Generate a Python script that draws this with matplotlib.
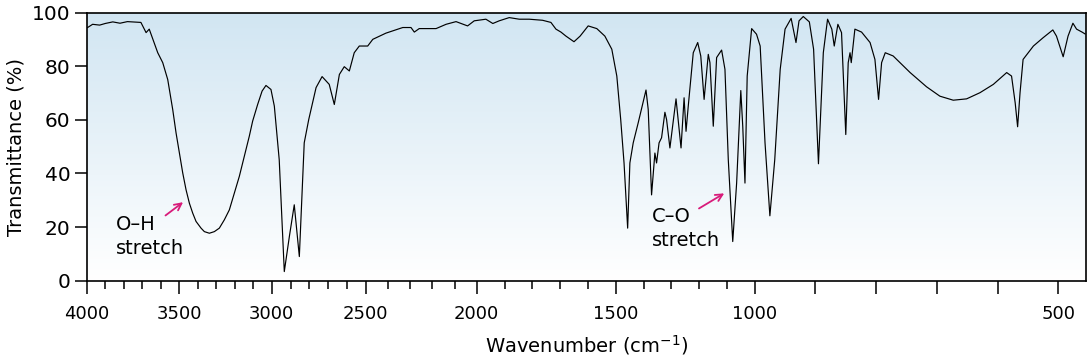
import numpy as np
import matplotlib
matplotlib.use("Agg")
import matplotlib.pyplot as plt
from matplotlib.ticker import FixedLocator, FixedFormatter

# ---------------- data ----------------
wavenumber = [
    3995, 3968, 3930, 3900, 3859, 3820, 3780, 3707, 3679, 3662, 3616, 3589,
    3562, 3535, 3517, 3499, 3481, 3463, 3445, 3427, 3409, 3382, 3364, 3337,
    3310, 3283, 3256, 3229, 3202, 3175, 3148, 3121, 3103, 3076, 3052, 3031,
    3004,
    2986, 2960, 2933, 2906, 2880, 2853, 2827, 2803, 2764, 2732, 2694, 2667,
    2640, 2614, 2587, 2561, 2534,
    2491, 2468, 2409, 2333, 2296, 2281, 2259, 2183, 2138, 2093, 2041, 2011,
    1967, 1942, 1919, 1883, 1847, 1811, 1763, 1733, 1715, 1697, 1679, 1650,
    1628, 1599, 1568, 1539, 1514, 1496, 1482, 1470, 1457, 1449, 1437, 1419,
    1391, 1383, 1371, 1359, 1353, 1344, 1335, 1323, 1317, 1305, 1283, 1265,
    1254, 1247, 1239, 1221, 1205, 1194, 1182, 1167, 1161, 1149, 1137, 1119,
    1107, 1095, 1079, 1065, 1050, 1043, 1035, 1027, 1011,
    997, 991, 983, 975, 967, 958, 950, 940, 932, 927, 920, 910, 903, 895,
    887, 880, 873, 869, 863, 857, 850, 846, 843, 841, 835, 824, 810, 802,
    796, 791, 785, 772, 744, 717, 695, 673, 651, 629, 607, 585, 577, 571,
    567, 563, 558, 541, 525, 509, 503, 492, 484, 476, 470, 461, 456,
]
transmittance = [
    94.4, 95.6, 95.3, 95.9, 96.5, 96.0, 96.6, 96.3, 92.5, 93.8, 85.0, 81.3,
    75.0, 63.8, 55.1, 47.6, 40.2, 33.9, 28.9, 25.2, 22.1, 19.6, 18.3, 17.7,
    18.3, 19.6, 22.7, 26.4, 32.7, 38.9, 46.4, 53.9, 59.5, 65.7, 70.7, 72.8,
    71.3,
    65.1, 45.1, 3.4, 16.5, 28.3, 9.0, 51.4, 60.1, 72.0, 76.1, 73.2, 65.7,
    76.9, 79.8, 78.2, 85.0, 87.5,
    87.5, 90.0, 92.3, 94.4, 94.4, 92.7, 94.0, 94.0, 95.6, 96.6, 95.0, 96.9,
    97.5, 95.9, 96.9, 98.1, 97.5, 97.5, 97.1, 96.3, 93.8, 92.7, 91.2, 89.1,
    91.2, 95.0, 94.0, 91.2, 86.3, 76.3, 60.1, 43.9, 19.6, 43.9, 51.4, 58.9,
    71.1, 63.8, 32.0, 47.6, 43.9, 51.4, 53.3, 62.8, 60.1, 49.5, 67.8, 49.5,
    68.2, 55.7, 65.1, 85.0, 88.8, 83.8, 67.6, 84.4, 81.3, 57.6, 83.2, 86.0,
    78.8, 45.1, 14.6, 36.4, 70.9, 57.6, 36.4, 76.3, 94.0,
    91.9, 87.5, 51.4, 24.2, 45.1, 78.8, 93.8, 97.8, 88.8, 96.9, 98.5, 96.5,
    86.3, 43.6, 85.0, 97.5, 93.8, 87.5, 95.6, 92.5, 54.5, 81.3, 85.0, 81.3,
    93.8, 92.7, 88.8, 82.5, 67.6, 81.3, 85.0, 83.8, 77.6, 72.3, 68.8, 67.3,
    67.8, 70.1, 73.2, 77.6, 76.3, 66.3, 57.4, 70.1, 82.5, 87.5, 90.6, 93.5,
    91.2, 83.5, 91.2, 96.0, 93.8, 92.7, 92.0,
]
major_ticks = [4000, 3500, 3000, 2500, 2000, 1500, 1000, 900, 800, 700, 600, 500]
labelled_ticks = [4000, 3500, 3000, 2500, 2000, 1500, 1000, 500]
minor_ticks = [v for v in range(3900, 1000, -100) if v % 500 != 0]
y_ticks = [0, 20, 40, 60, 80, 100]

# ---------------- piecewise wavenumber axis ----------------
_bp_nu = np.array([300, 455, 500, 1000, 2000, 2500, 3000, 4000, 4500], float)
_bp_pos = -np.array([1179.8, 1085.7, 1058.3, 754.7, 476.7, 365.7, 271.7, 86.7, -5.8])


def fwd(v):
    return np.interp(v, _bp_nu, _bp_pos)


def inv(p):
    return np.interp(p, _bp_pos, _bp_nu)


plt.rcParams['font.family'] = ['DejaVu Sans']

fig = plt.figure(figsize=(10.89, 3.6), dpi=100)
ax = fig.add_axes([86.7 / 1089, 1 - 280.7 / 360, (1085.7 - 86.7) / 1089, (280.7 - 12.5) / 360])
ax.set_xscale('function', functions=(fwd, inv))
ax.set_xlim(4000, 455)
ax.set_ylim(0, 100)

# background gradient (light blue top -> white bottom)
grad = np.linspace(1, 0, 256).reshape(-1, 1)
top = np.array([0.82, 0.90, 0.95])
bot = np.array([1.0, 1.0, 1.0])
img = bot + (top - bot) * grad[..., None]
ax.imshow(img.reshape(256, 1, 3), extent=[0, 1, 0, 1], transform=ax.transAxes,
          aspect='auto', zorder=0, interpolation='bilinear')

ax.plot(wavenumber, transmittance, color='black', lw=0.85, zorder=2)

ax.xaxis.set_major_locator(FixedLocator(major_ticks))
ax.xaxis.set_major_formatter(FixedFormatter(
    [str(t) if t in labelled_ticks else '' for t in major_ticks]))
ax.xaxis.set_minor_locator(FixedLocator(minor_ticks))
ax.set_yticks(y_ticks)

ax.tick_params(axis='x', which='major', direction='out', length=9.5, width=1.1,
               labelsize=13, pad=8)
ax.tick_params(axis='x', which='minor', direction='out', length=6, width=1.1)
ax.tick_params(axis='y', which='major', direction='out', length=8.5, width=1.1,
               labelsize=14.5, pad=3)
for s in ax.spines.values():
    s.set_linewidth(1.2)

ax.set_ylabel('Transmittance (%)', fontsize=14, labelpad=5)
ax.set_xlabel('Wavenumber (cm$^{-1}$)', fontsize=14, labelpad=7)

pink = '#d81b7a'
ax.text(3842, 24.5, 'O\u2013H\nstretch', fontsize=14, va='top', ha='left',
        linespacing=1.35, zorder=3)
ax.annotate('', xy=(3467, 29.9), xytext=(3586, 23.7),
            arrowprops=dict(arrowstyle='->,head_length=0.5,head_width=0.25',
                            color=pink, lw=1.3), zorder=3)
ax.text(1370, 27.5, 'C\u2013O\nstretch', fontsize=14, va='top', ha='left',
        linespacing=1.35, zorder=3)
ax.annotate('', xy=(1101, 33.1), xytext=(1209, 26.4),
            arrowprops=dict(arrowstyle='->,head_length=0.5,head_width=0.25',
                            color=pink, lw=1.3), zorder=3)

fig.savefig('out.png', dpi=100)
